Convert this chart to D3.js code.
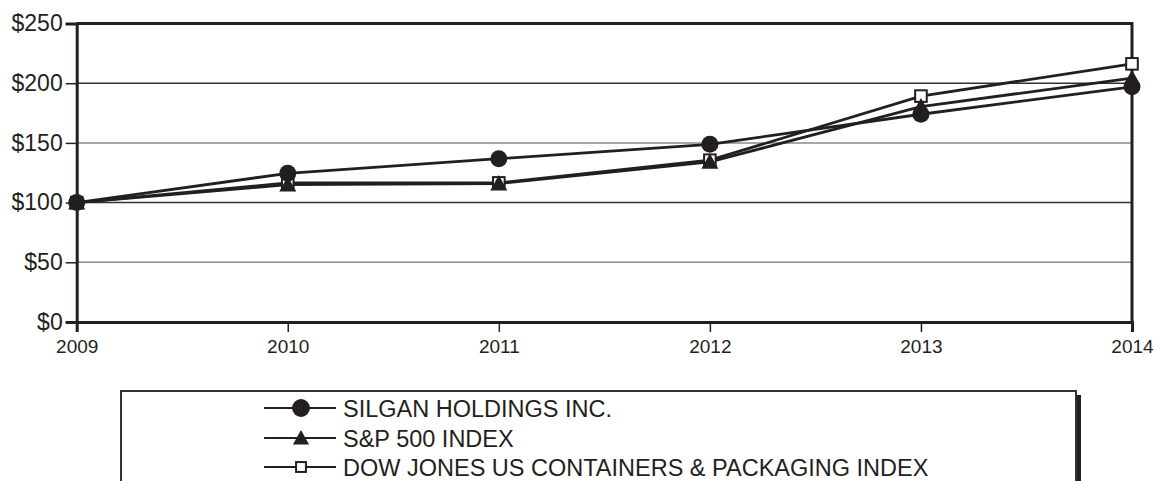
<!DOCTYPE html>
<html>
<head>
<meta charset="utf-8">
<script src="https://cdn.jsdelivr.net/npm/d3@7"></script>
<style>
  body { margin: 0; background: #fff; }
  svg { display: block; font-family: "Liberation Sans", Arial, Helvetica, sans-serif; }
</style>
</head>
<body>
<svg width="1155" height="481"></svg>
<script>
// Data
var years = ["2009", "2010", "2011", "2012", "2013", "2014"];
var silgan = [100, 124.5, 136.8, 148.8, 174, 197];
var sp500 = [100, 115, 115.9, 134.1, 180.4, 204.2];
var djContainers = [100, 116.5, 116.5, 135.5, 189.2, 216.2];
var yTicks = [0, 50, 100, 150, 200, 250];
var seriesNames = ["SILGAN HOLDINGS INC.", "S&P 500 INDEX", "DOW JONES US CONTAINERS & PACKAGING INDEX"];

var svg = d3.select("svg");

// Scales
var x = d3.scalePoint().domain(years).range([76.7, 1132]);
var y = d3.scaleLinear().domain([0, 250]).range([322, 23.5]);

// gridlines
svg.append("g")
  .selectAll("line")
  .data([50, 100, 150, 200])
  .enter()
  .append("line")
  .attr("x1", x("2009"))
  .attr("x2", x("2014"))
  .attr("y1", function (d) { return y(d); })
  .attr("y2", function (d) { return y(d); })
  .attr("stroke", function (d) { return d % 100 === 0 ? "#333" : "#8a8a8a"; })
  .attr("stroke-width", 1.5);

// frame (top + right)
svg.append("path")
  .attr("d", "M" + x("2009") + "," + y(250) + "H" + x("2014") + "V" + y(0))
  .attr("fill", "none")
  .attr("stroke", "#231f20")
  .attr("stroke-width", 3);

// Y axis
var yAxis = svg.append("g")
  .attr("transform", "translate(" + x("2009") + ",0)")
  .call(d3.axisLeft(y).tickValues(yTicks).tickSize(11).tickPadding(3)
    .tickFormat(function (d) { return "$" + d; }));
yAxis.select(".domain").attr("stroke", "#231f20").attr("stroke-width", 3);
yAxis.selectAll(".tick line").attr("stroke", "#231f20").attr("stroke-width", 1.5);
yAxis.selectAll(".tick text")
  .attr("font-size", 23)
  .attr("font-family", "Liberation Sans, Arial, sans-serif")
  .attr("fill", "#231f20");

// X axis
var xAxis = svg.append("g")
  .attr("transform", "translate(0," + y(0) + ")")
  .call(d3.axisBottom(x).tickSize(10).tickPadding(8));
xAxis.select(".domain").attr("stroke", "#231f20").attr("stroke-width", 3);
xAxis.selectAll(".tick line").attr("stroke", "#231f20").attr("stroke-width", 1.5);
xAxis.selectAll(".tick text")
  .attr("font-size", 19)
  .attr("font-family", "Liberation Sans, Arial, sans-serif")
  .attr("fill", "#231f20");

// markers
function drawMarker(g, kind, cx, cy, scale) {
  if (kind === "circle") {
    g.append("circle").attr("cx", cx).attr("cy", cy).attr("r", 8.5 * scale).attr("fill", "#231f20");
  } else if (kind === "triangle") {
    var s = 8.5 * scale;
    g.append("path")
      .attr("d", "M" + cx + "," + (cy - s) + "L" + (cx + s) + "," + (cy + s * 0.8) + "L" + (cx - s) + "," + (cy + s * 0.8) + "Z")
      .attr("fill", "#231f20");
  } else {
    var h = 5.8 * scale;
    g.append("rect")
      .attr("x", cx - h).attr("y", cy - h)
      .attr("width", 2 * h).attr("height", 2 * h)
      .attr("fill", "#fff").attr("stroke", "#231f20").attr("stroke-width", 2);
  }
}

var series = [
  { name: seriesNames[0], values: silgan, marker: "circle" },
  { name: seriesNames[1], values: sp500, marker: "triangle" },
  { name: seriesNames[2], values: djContainers, marker: "square" }
];

var line = d3.line()
  .x(function (d, i) { return x(years[i]); })
  .y(function (d) { return y(d); });

var lines = svg.append("g");
series.forEach(function (s) {
  lines.append("path")
    .attr("d", line(s.values))
    .attr("fill", "none")
    .attr("stroke", "#231f20")
    .attr("stroke-width", 2.8);
});
// squares first, then triangles, circles on top
var marks = svg.append("g");
series.slice().reverse().forEach(function (s) {
  s.values.forEach(function (v, i) {
    drawMarker(marks, s.marker, x(years[i]), y(v), 1);
  });
});

// Legend box
var legend = svg.append("g");
legend.append("rect")
  .attr("x", 1076).attr("y", 395)
  .attr("width", 5).attr("height", 100)
  .attr("fill", "#231f20");
legend.append("path")
  .attr("d", "M121,500V391H1076V500")
  .attr("fill", "none")
  .attr("stroke", "#333")
  .attr("stroke-width", 2);

var rowY = [408, 438, 467];
series.forEach(function (s, i) {
  var ry = rowY[i];
  legend.append("line")
    .attr("x1", 264).attr("x2", 336)
    .attr("y1", ry).attr("y2", ry)
    .attr("stroke", "#231f20").attr("stroke-width", 2.2);
  drawMarker(legend, s.marker, 301, ry, s.marker === "circle" ? 1.05 : s.marker === "square" ? 0.85 : 0.95);
  legend.append("text")
    .attr("x", 343).attr("y", ry + 8.5)
    .attr("font-size", 23.5)
    .attr("fill", "#231f20")
    .text(s.name);
});
</script>
</body>
</html>
